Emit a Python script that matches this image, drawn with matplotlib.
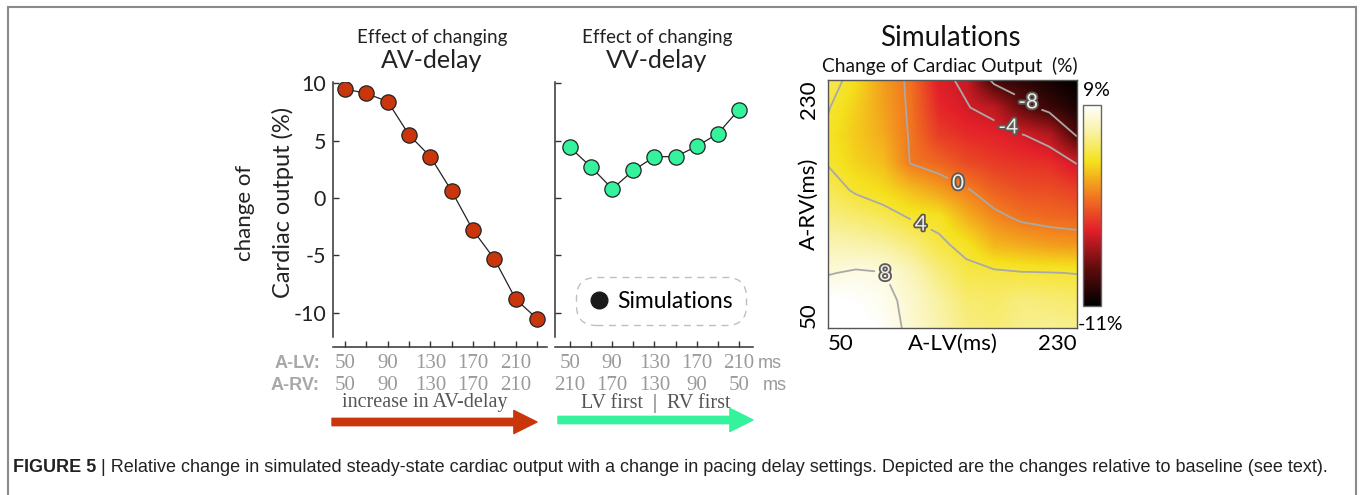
import numpy as np
import matplotlib
matplotlib.use('Agg')
import matplotlib.pyplot as plt
from matplotlib.colors import LinearSegmentedColormap
from matplotlib.lines import Line2D
from matplotlib.patches import Rectangle, FancyArrowPatch
import matplotlib.patheffects as pe
import matplotlib.transforms as mtransforms

plt.rcParams['font.family'] = ['Lato', 'DejaVu Sans']
plt.rcParams['axes.unicode_minus'] = False

# ---- data ----
av_delay = [50, 70, 90, 110, 130, 150, 170, 190, 210, 230]
av_change = [9.5, 9.1, 8.4, 5.5, 3.6, 0.6, -2.8, -5.3, -8.8, -10.5]

vv_lv = [50, 70, 90, 110, 130, 150, 170, 190, 210]
vv_rv = [210, 190, 170, 150, 130, 110, 90, 70, 50]
vv_change = [4.4, 2.7, 0.8, 2.4, 3.6, 3.6, 4.5, 5.6, 7.7]

av_tick_labels = ['50', '90', '130', '170', '210']
vv_lv_labels = ['50', '90', '130', '170', '210']
vv_rv_labels = ['210', '170', '130', '90', '50']

# heatmap: rows = A-RV (50 -> 230), columns = A-LV (50 -> 230)
grid_lv = [50, 70, 90, 110, 130, 150, 170, 190, 210, 230]
grid_rv = [50, 70, 90, 110, 130, 150, 170, 190, 210, 230]
co_by_lv = [
    [9.5, 9.1, 7.9, 6.8, 5.6, 4.7, 3.9, 3.7, 4.1, 4.8],        # LV 50
    [9.3, 8.9, 8.2, 6.6, 5.2, 3.8, 2.9, 2.6, 2.8, 3.3],        # LV 70
    [8.8, 8.5, 8.05, 6.3, 4.7, 3.2, 2.2, 1.6, 1.3, 1.2],       # LV 90
    [7.6, 7.5, 6.9, 5.5, 3.9, 2.2, -0.1, -0.2, -0.3, -0.4],    # LV 110
    [6.6, 6.3, 5.5, 4.3, 3.6, 1.2, -0.8, -2.3, -3.1, -3.6],    # LV 130
    [5.6, 5.2, 4.4, 3.6, 1.8, 0.2, -1.8, -3.0, -3.9, -4.3],    # LV 150
    [5.3, 5.0, 4.3, 2.0, 0.5, -1.0, -2.4, -3.3, -4.6, -8.6],   # LV 170
    [5.8, 5.5, 4.1, 1.6, -0.3, -1.6, -2.7, -3.9, -7.3, -9.3],  # LV 190
    [6.0, 5.3, 4.05, 1.2, -0.6, -1.7, -2.9, -4.8, -8.7, -10.2],  # LV 210
    [5.8, 5.1, 3.95, 1.0, -0.8, -2.2, -4.1, -8.2, -10.0, -11.0],  # LV 230
]
contour_levels = [-8, -4, 0, 4, 8]
label_spots = [(192, 210), (181, 197), (144, 155), (118, 127), (91, 89)]

W, H = 1360, 495
fig = plt.figure(figsize=(W / 100, H / 100), dpi=100)


def box(l, t, r, b):
    return [l / W, 1 - b / H, (r - l) / W, (b - t) / H]


def fy(y):
    return 1 - y / H


red = '#c9360c'
green = '#35f29c'
grey_txt = '#9a9a9a'

# ---------- AV-delay panel ----------
ax1 = fig.add_axes(box(333, 82, 547, 337))
ax1.plot(av_delay, av_change, '-o', color='#222222', lw=0.9,
         mfc=red, mec='#222222', mew=0.9, ms=11, zorder=3)
ax1.set_xlim(38.7, 239.4)
ax1.set_ylim(-12.1, 10.1)
ax1.set_yticks([-10, -5, 0, 5, 10])
ax1.set_yticklabels(['-10', '-5', '0', '5', '10'], fontsize=15.5)
ax1.set_xticks(av_delay)
ax1.set_xticklabels([])

# ---------- VV-delay panel ----------
ax2 = fig.add_axes(box(555, 82, 753, 337))
ax2.plot(vv_lv, vv_change, '-o', color='#222222', lw=0.9,
         mfc=green, mec='#222222', mew=0.9, ms=11, zorder=3)
ax2.set_xlim(35.8, 223.3)
ax2.set_ylim(-12.1, 10.1)
ax2.set_yticks([-10, -5, 0, 5, 10])
ax2.set_yticklabels([])
ax2.set_xticks(vv_lv)
ax2.set_xticklabels([])

for ax in (ax1, ax2):
    for s in ('top', 'right'):
        ax.spines[s].set_visible(False)
    ax.spines['bottom'].set_position(('outward', 7))
    for s in ('left', 'bottom'):
        ax.spines[s].set_linewidth(1.1)
        ax.spines[s].set_color('#333333')
    ax.tick_params(direction='in', length=4, width=1, colors='#333333',
                   labelcolor='#222222', pad=5)

leg = ax2.legend(handles=[Line2D([], [], marker='o', ls='', color='#1a1a1a', ms=12)],
                 labels=['Simulations'], loc='center', bbox_to_anchor=(0.535, 0.141),
                 fontsize=16.5, handlelength=0.8, handletextpad=0.4, borderpad=0.6,
                 frameon=True, fancybox=True)
frame = leg.get_frame()
frame.set_boxstyle('round,pad=0,rounding_size=0.9')
frame.set_linestyle((0, (5, 4)))
frame.set_edgecolor('#b0b0b0')
frame.set_linewidth(1)

# titles and y label
for cx, word in ((432, 'AV-delay'), (657, 'VV-delay')):
    fig.text(cx / W, fy(38), 'Effect of changing', ha='center', va='center',
             fontsize=13.5, color='#222222')
    fig.text(cx / W, fy(61), word, ha='center', va='center',
             fontsize=18, color='#222222')
fig.text(245 / W, fy(213), 'change of', rotation=90, ha='center', va='center',
         fontsize=16, color='#222222')
fig.text(283 / W, fy(202), 'Cardiac output (%)', rotation=90, ha='center',
         va='center', fontsize=17, color='#222222')

# delay rows under the panels
t1 = mtransforms.blended_transform_factory(ax1.transData, fig.transFigure)
t2 = mtransforms.blended_transform_factory(ax2.transData, fig.transFigure)
serif = dict(ha='center', va='center', family='Liberation Serif', fontsize=15,
             color=grey_txt)
for k, lab in enumerate(av_tick_labels):
    ax1.text(av_delay[2 * k], fy(363), lab, transform=t1, **serif)
    ax1.text(av_delay[2 * k], fy(385), lab, transform=t1, **serif)
for k in range(5):
    ax2.text(vv_lv[2 * k], fy(363), vv_lv_labels[k], transform=t2, **serif)
    ax2.text(vv_lv[2 * k], fy(385), vv_rv_labels[k], transform=t2, **serif)
fig.text(320 / W, fy(363), 'A-LV:', ha='right', va='center', family='Liberation Sans',
         weight='bold', fontsize=13, color='#a8a8a8')
fig.text(320 / W, fy(385), 'A-RV:', ha='right', va='center', family='Liberation Sans',
         weight='bold', fontsize=13, color='#a8a8a8')
fig.text(758 / W, fy(364), 'ms', ha='left', va='center', family='Liberation Sans',
         fontsize=13, color=grey_txt)
fig.text(763 / W, fy(386), 'ms', ha='left', va='center', family='Liberation Sans',
         fontsize=13, color=grey_txt)

# arrows
for x0, x1, yy, c in ((332, 537, 422, red), (558, 753, 420, green)):
    fig.add_artist(FancyArrowPatch(
        (x0, H - yy), (x1, H - yy), transform=None,
        arrowstyle='simple,head_length=1.2,head_width=1.2,tail_width=0.38',
        mutation_scale=10 * 100 / 72, color=c, shrinkA=0, shrinkB=0))
fig.text(425 / W, fy(403), 'increase in AV-delay', ha='center', va='center',
         family='Liberation Serif', fontsize=14.5, color='#555555')
fig.text(656 / W, fy(403), 'LV first  |  RV first', ha='center', va='center',
         family='Liberation Serif', fontsize=14.5, color='#555555')

# ---------- heatmap ----------
cmap = LinearSegmentedColormap.from_list('co', [
    (0.0, '#000000'), (0.18, '#5c0b0b'), (0.38, '#e3202a'), (0.55, '#f27a1f'),
    (0.72, '#f5e11c'), (0.87, '#f9f2a6'), (1.0, '#ffffff')])
V = np.array(co_by_lv).T
ax3 = fig.add_axes(box(828, 80, 1077, 328))
im = ax3.imshow(V, origin='lower', extent=(40, 240, 40, 240), cmap=cmap,
                vmin=-11, vmax=9, interpolation='bilinear', aspect='auto')
cs = ax3.contour(grid_lv, grid_rv, V, levels=contour_levels, colors='#a9a9a9',
                 linewidths=1.3, linestyles='solid')
lbls = ax3.clabel(cs, contour_levels, manual=label_spots, fmt='%d', fontsize=15,
                  inline=True, inline_spacing=4)
for t in lbls:
    t.set_rotation(0)
    t.set_color('#f3eee2')
    t.set_path_effects([pe.withStroke(linewidth=2.6, foreground='#5a5a5a')])
ax3.set_xlim(50, 230)
ax3.set_ylim(50, 230)
ax3.set_xticks([])
ax3.set_yticks([])
for s in ax3.spines.values():
    s.set_color('#555555')
    s.set_linewidth(1)
ax3.text(0, -0.025, '50', transform=ax3.transAxes, ha='left', va='top', fontsize=16)
ax3.text(1, -0.025, '230', transform=ax3.transAxes, ha='right', va='top', fontsize=16)
ax3.text(0.5, -0.025, 'A-LV(ms)', transform=ax3.transAxes, ha='center', va='top',
         fontsize=16)
ax3.text(-0.035, 1, '230', transform=ax3.transAxes, ha='right', va='top',
         rotation=90, fontsize=16)
ax3.text(-0.035, 0, '50', transform=ax3.transAxes, ha='right', va='bottom',
         rotation=90, fontsize=16)
ax3.text(-0.035, 0.5, 'A-RV(ms)', transform=ax3.transAxes, ha='right', va='center',
         rotation=90, fontsize=16)
fig.text(950 / W, fy(38), 'Simulations', ha='center', va='center', fontsize=20,
         color='#111111')
fig.text(950 / W, fy(66), 'Change of Cardiac Output  (%)', ha='center', va='center',
         fontsize=13.8, color='#111111')

cax = fig.add_axes(box(1083, 105, 1101, 306))
cb = fig.colorbar(im, cax=cax, ticks=[])
cb.outline.set_edgecolor('#666666')
cb.outline.set_linewidth(1)
fig.text(1083 / W, fy(91), '9%', ha='left', va='center', fontsize=14)
fig.text(1078 / W, fy(324), '-11%', ha='left', va='center', fontsize=14)

# ---------- frame and caption ----------
fig.add_artist(Rectangle((8 / W, -0.05), (1356 - 8) / W, 1 - 7 / H + 0.05,
                         transform=fig.transFigure, fill=False, ec='#8a8a8a', lw=1.5))
cap1 = fig.text(13 / W, fy(467), 'FIGURE 5', ha='left', va='center',
                family='Liberation Sans', weight='bold', fontsize=13, color='#222222')
fig.canvas.draw()
ax3.annotate(' | Relative change in simulated steady-state cardiac output with a change '
             'in pacing delay settings. Depicted are the changes relative to baseline '
             '(see text).', xy=(1, 0.5), xycoords=cap1, va='center', ha='left',
             family='Liberation Sans', fontsize=13, color='#222222',
             annotation_clip=False)

fig.savefig('out.png', dpi=100)
